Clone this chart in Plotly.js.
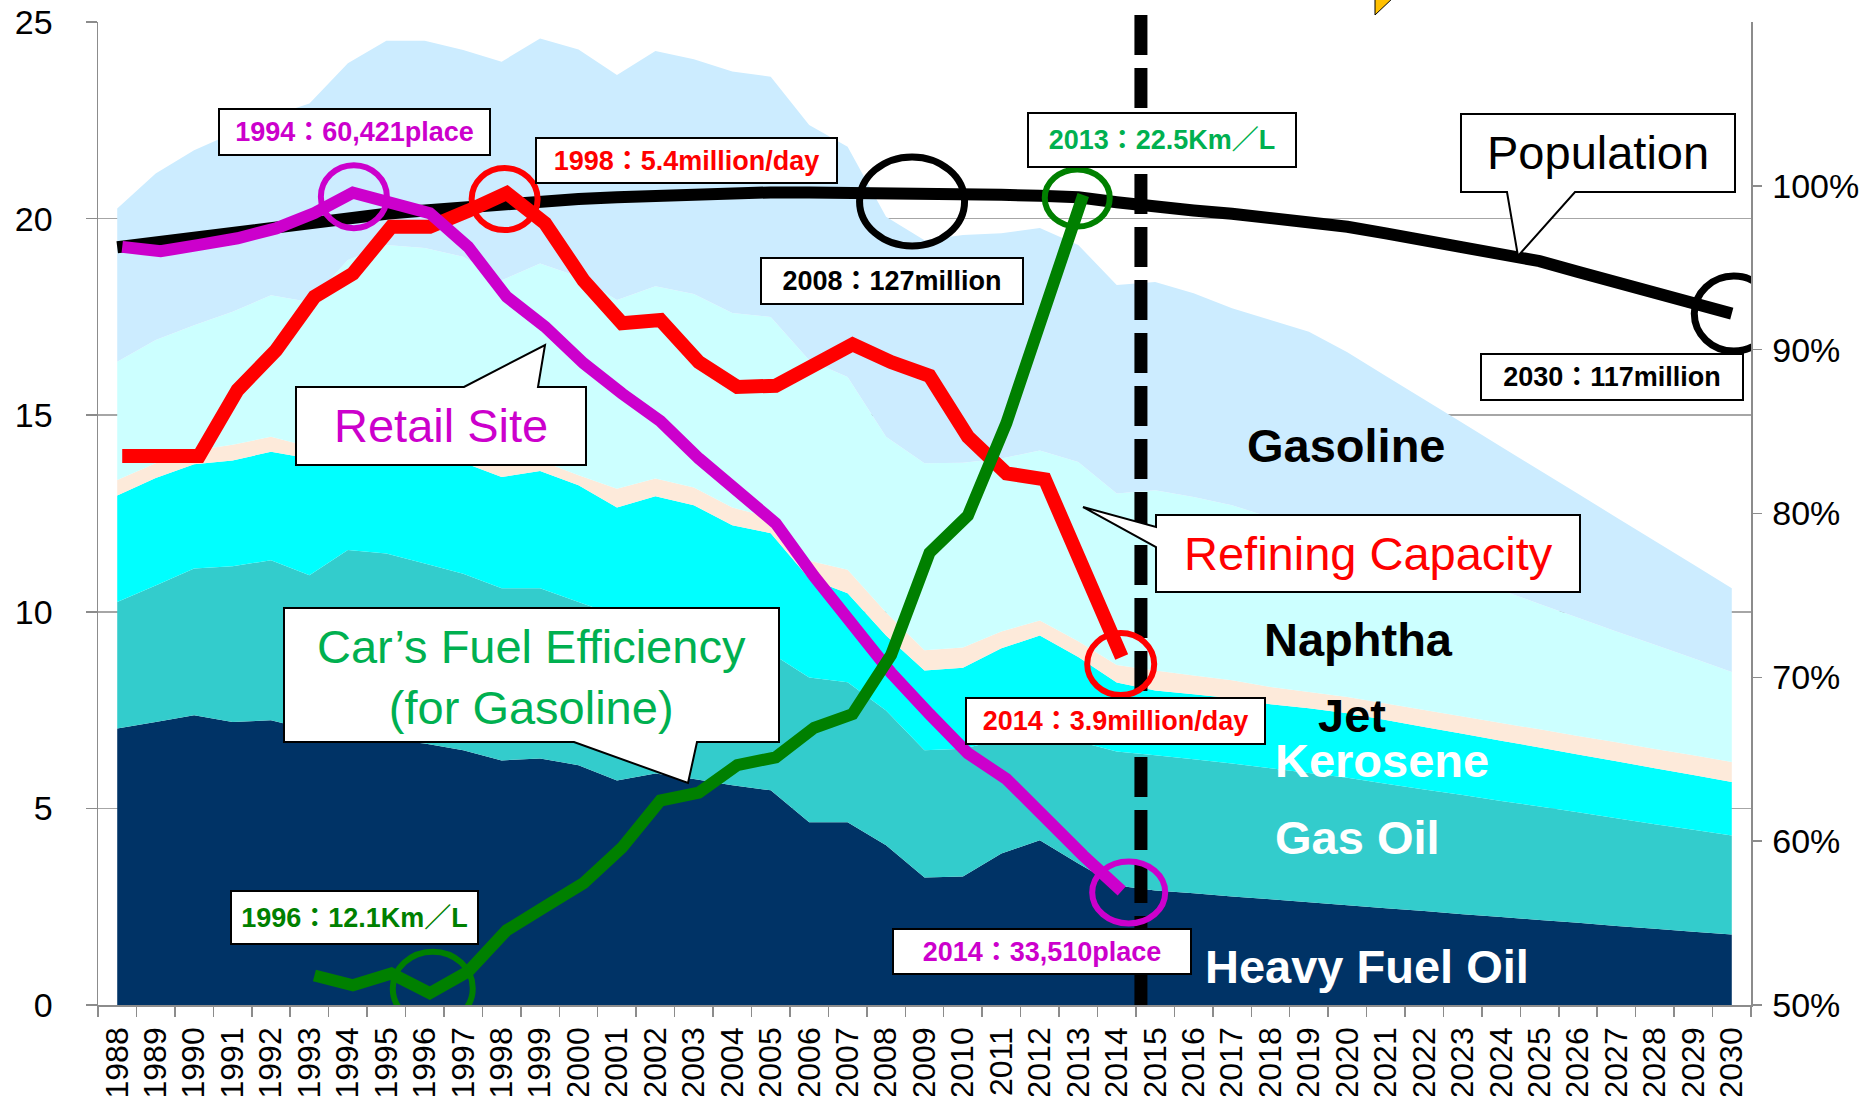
<!DOCTYPE html>
<html><head><meta charset="utf-8">
<script src="https://cdn.plot.ly/plotly-3.0.1.min.js"></script>
<style>html,body{margin:0;padding:0;background:#fff;overflow:hidden}#chart{width:1874px;height:1096px}</style>
</head><body><div id="chart"></div>
<script>
// ---------------- DATA ----------------
const years = ['1988','1989','1990','1991','1992','1993','1994','1995','1996','1997','1998','1999','2000','2001','2002','2003','2004','2005','2006','2007','2008','2009','2010','2011','2012','2013','2014','2015','2016','2017','2018','2019','2020','2021','2022','2023','2024','2025','2026','2027','2028','2029','2030'];

// demand by product (stacked, left axis)
const heavyFuelOil = [7.03,7.2,7.37,7.2,7.24,7.0,6.85,6.75,6.65,6.48,6.22,6.27,6.1,5.71,5.89,5.75,5.59,5.46,4.65,4.65,4.06,3.24,3.27,3.85,4.19,3.6,3.04,2.91,2.84,2.76,2.69,2.61,2.54,2.46,2.39,2.31,2.24,2.16,2.09,2.01,1.94,1.86,1.79];
const gasOil = [3.22,3.47,3.73,3.96,4.07,3.93,4.72,4.73,4.58,4.49,4.38,4.33,4.15,4.19,3.91,3.75,3.71,3.49,3.68,3.56,3.43,3.24,3.25,2.9,2.76,3.1,3.41,3.44,3.41,3.38,3.33,3.29,3.24,3.17,3.09,3.03,2.95,2.89,2.81,2.74,2.66,2.6,2.52];
const kerosene = [2.71,2.73,2.65,2.69,2.76,2.97,2.43,2.47,2.67,2.83,2.83,2.98,2.97,2.75,3.14,3.21,2.9,3.05,2.52,2.26,1.91,2.03,2.06,2.32,2.45,2.15,1.75,1.65,1.65,1.66,1.63,1.65,1.64,1.62,1.59,1.56,1.53,1.5,1.47,1.45,1.42,1.39,1.36];
const jet = [0.39,0.38,0.35,0.4,0.38,0.3,0.4,0.4,0.4,0.35,0.3,0.27,0.25,0.48,0.45,0.45,0.45,0.4,0.45,0.6,0.58,0.51,0.51,0.43,0.38,0.4,0.45,0.51,0.48,0.46,0.44,0.41,0.41,0.42,0.43,0.44,0.45,0.46,0.47,0.48,0.49,0.5,0.51];
const naphtha = [3.01,3.13,3.19,3.38,3.6,3.68,4.55,4.98,4.95,4.88,4.7,5.01,5.05,4.8,4.89,4.92,4.95,5.1,5.1,4.9,4.47,4.76,4.7,4.4,4.32,4.56,4.36,4.58,4.54,4.45,4.31,4.13,3.95,3.8,3.66,3.51,3.38,3.19,3.01,2.82,2.65,2.47,2.29];
const gasoline = [3.9,4.24,4.45,4.54,4.55,5.05,5.0,5.19,5.27,5.26,5.56,5.72,5.78,5.72,5.98,5.97,6.14,6.11,5.98,5.86,5.6,5.67,5.79,5.73,5.66,5.52,5.3,5.3,5.18,5.01,5.02,5.03,4.82,4.53,4.24,3.95,3.65,3.4,3.15,2.9,2.64,2.38,2.13];

// population index (right axis, %)
const population = [96.25,96.55,96.85,97.15,97.45,97.8,98.1,98.3,98.5,98.7,98.9,99.05,99.2,99.3,99.4,99.5,99.55,99.6,99.6,99.6,99.6,99.6,99.55,99.45,99.4,99.3,99.0,98.7,98.5,98.3,98.05,97.8,97.5,97.1,96.7,96.3,95.9,95.4,94.75,94.1,93.45,92.8,92.2];

// indicator lines (plotted in left-axis units as drawn), 1988-2014
const lineYears = years.slice(0, 27);
const refiningCapacity = [13.96,13.96,13.96,15.64,16.65,18.01,18.6,19.79,19.79,20.2,20.65,19.88,18.43,17.34,17.42,16.35,15.72,15.75,16.3,16.8,16.35,16.0,14.45,13.52,13.37,11.1,8.85];
const retailSites = [19.28,19.17,19.33,19.5,19.75,20.14,20.66,20.39,20.14,19.28,18.01,17.25,16.32,15.55,14.85,13.9,13.05,12.25,10.9,9.65,8.45,7.4,6.4,5.75,4.75,3.8,2.9];
// fuel efficiency, 1993-2013
const fuelYears = years.slice(5, 26);
const fuelEfficiency = [0.75,0.5,0.8,0.3,0.85,1.9,2.5,3.1,4.0,5.2,5.4,6.1,6.3,7.05,7.4,8.9,11.5,12.45,14.8,17.8,20.6];

const leftTicks = [0,5,10,15,20,25];
const rightTicks = [50,60,70,80,90,100];
const rightTickText = ['50%','60%','70%','80%','90%','100%'];

// ---------------- LAYOUT HELPERS ----------------
const W = 1874, H = 1096, ML = 98, MR = 123, MT = 22, MB = 91;
const PW = W - ML - MR, PH = H - MT - MB;
const px = x => (x - ML) / PW;
const py = y => (H - MB - y) / PH;
const FONT = 'Liberation Sans, Arial, Noto Sans CJK JP, sans-serif';

const areaDefs = [
  {name:'Heavy Fuel Oil', y:heavyFuelOil, color:'#003366'},
  {name:'Gas Oil', y:gasOil, color:'#33CCCC'},
  {name:'Kerosene', y:kerosene, color:'#00FFFF'},
  {name:'Jet', y:jet, color:'#FDEADA'},
  {name:'Naphtha', y:naphtha, color:'#CCFFFF'},
  {name:'Gasoline', y:gasoline, color:'#CCECFF'}
];

const traces = areaDefs.map(d => ({
  type:'scatter', x:years, y:d.y, name:d.name, stackgroup:'one',
  mode:'none', fillcolor:d.color, line:{width:0}, hoverinfo:'skip'
}));
traces.push({type:'scatter', x:years, y:population, xaxis:'x', yaxis:'y2', mode:'lines',
  line:{color:'#000000', width:12}, name:'Population', hoverinfo:'skip'});
traces.push({type:'scatter', x:lineYears, y:refiningCapacity, xaxis:'x2', yaxis:'y', mode:'lines',
  line:{color:'#FF0000', width:14}, name:'Refining Capacity', hoverinfo:'skip'});
traces.push({type:'scatter', x:lineYears, y:retailSites, xaxis:'x2', yaxis:'y', mode:'lines',
  line:{color:'#CC00CC', width:12}, name:'Retail Site', hoverinfo:'skip'});
traces.push({type:'scatter', x:fuelYears, y:fuelEfficiency, xaxis:'x2', yaxis:'y', mode:'lines',
  line:{color:'#008000', width:12}, name:'Fuel Efficiency', hoverinfo:'skip'});

// highlight circles anchored on data points
function valAt(arr, yrs, yr){ return arr[yrs.indexOf(yr)]; }
const circles = [
  {xref:'x2', yref:'y', yr:'1994', v:valAt(retailSites,lineYears,'1994'), w:66, h:63, dx:1, dy:-4, color:'#CC00CC', lw:6},
  {xref:'x2', yref:'y', yr:'1998', v:valAt(refiningCapacity,lineYears,'1998'), w:66, h:62, dx:-2, dy:-6, color:'#FF0000', lw:6},
  {xref:'x', yref:'y2', yr:'2008', v:valAt(population,years,'2008'), w:105, h:89, dx:26, dy:-9, color:'#000000', lw:7},
  {xref:'x2', yref:'y', yr:'2013', v:valAt(fuelEfficiency,fuelYears,'2013'), w:65, h:57, dx:-6, dy:-3, color:'#008000', lw:6},
  {xref:'x', yref:'y2', yr:'2030', v:valAt(population,years,'2030'), w:79, h:75, dx:2, dy:0, color:'#000000', lw:7},
  {xref:'x2', yref:'y', yr:'2014', v:valAt(refiningCapacity,lineYears,'2014'), w:67, h:62, dx:-1, dy:-7, color:'#FF0000', lw:6},
  {xref:'x2', yref:'y', yr:'2014', v:valAt(retailSites,lineYears,'2014'), w:73, h:62, dx:7, dy:-1.5, color:'#CC00CC', lw:6},
  {xref:'x2', yref:'y', yr:'1996', v:valAt(fuelEfficiency,fuelYears,'1996'), w:80, h:73, dx:3, dy:5, color:'#008000', lw:6}
];

const boxLabels = [
  {text:'1994：60,421place', color:'#CC00CC', box:[218,491,108,156]},
  {text:'1998：5.4million/day', color:'#FF0000', box:[535,838,137,184]},
  {text:'2013：22.5Km／L', color:'#00B050', box:[1027,1297,112,168]},
  {text:'2008：127million', color:'#000000', box:[760,1024,257,305]},
  {text:'2030：117million', color:'#000000', box:[1480,1744,353,401]},
  {text:'2014：3.9million/day', color:'#FF0000', box:[965,1266,697,745]},
  {text:'2014：33,510place', color:'#CC00CC', box:[892,1192,928,975]},
  {text:'1996：12.1Km／L', color:'#008000', box:[230,479,890,945]}
];

const callouts = [
  {text:'Population', color:'#000000', cx:1598, cy:153,
   pts:[[1461,114],[1735,114],[1735,192],[1575,192],[1518,256],[1507,192],[1461,192]]},
  {text:'Retail Site', color:'#CC00CC', cx:441, cy:426,
   pts:[[296,387],[464,387],[545,345],[538,387],[586,387],[586,465],[296,465]]},
  {text:'Refining Capacity', color:'#FF0000', cx:1368, cy:553,
   pts:[[1156,515],[1580,515],[1580,592],[1156,592],[1156,547],[1083,507],[1156,527]]},
  {text:'Car’s Fuel Efficiency<br>(for Gasoline)', color:'#00B050', cx:531, cy:677,
   pts:[[284,608],[779,608],[779,742],[697,742],[688,783],[574,742],[284,742]]}
];

const areaLabels = [
  {text:'Gasoline', color:'#000000', x:1346, y:445},
  {text:'Naphtha', color:'#000000', x:1358, y:639},
  {text:'Jet', color:'#000000', x:1352, y:715},
  {text:'Kerosene', color:'#FFFFFF', x:1382, y:760},
  {text:'Gas Oil', color:'#FFFFFF', x:1357, y:837},
  {text:'Heavy Fuel Oil', color:'#FFFFFF', x:1367, y:966}
];

// ---------------- SHAPES ----------------
const shapes = [];
// forecast separator (between 2014 and 2015)
shapes.push({type:'line', layer:'above', xref:'x2', yref:'paper',
  x0:26.5, x1:26.5, y0:py(15), y1:0,
  line:{color:'#000000', width:13, dash:'40px,13px'}});
callouts.forEach(c => {
  const d = 'M ' + c.pts.map(p => px(p[0]).toFixed(5) + ',' + py(p[1]).toFixed(5)).join(' L ') + ' Z';
  shapes.push({type:'path', layer:'above', xref:'paper', yref:'paper', path:d,
    fillcolor:'#FFFFFF', line:{color:'#000000', width:2}});
});
circles.forEach(c => {
  const xi = years.indexOf(c.yr);
  shapes.push({type:'circle', layer:'above', xref:c.xref, yref:c.yref,
    xsizemode:'pixel', ysizemode:'pixel', xanchor:xi, yanchor:c.v,
    x0:c.dx - c.w/2, x1:c.dx + c.w/2, y0:c.dy - c.h/2, y1:c.dy + c.h/2,
    line:{color:c.color, width:c.lw}, fillcolor:'rgba(0,0,0,0)'});
});
// cut-off marker at the top edge
shapes.push({type:'path', layer:'above', xref:'paper', yref:'paper',
  path:'M ' + px(1375) + ',' + py(-3) + ' L ' + px(1375) + ',' + py(15) + ' L ' + px(1394) + ',' + py(-3) + ' Z',
  fillcolor:'#FFC000', line:{color:'#000000', width:1}});

// ---------------- ANNOTATIONS ----------------
const annotations = [];
boxLabels.forEach(b => {
  annotations.push({xref:'paper', yref:'paper', x:px((b.box[0]+b.box[1])/2), y:py((b.box[2]+b.box[3])/2),
    xanchor:'center', yanchor:'middle', showarrow:false, text:b.text,
    width:b.box[1]-b.box[0]-4, height:b.box[3]-b.box[2]-4, align:'center', valign:'middle',
    bgcolor:'#FFFFFF', bordercolor:'#000000', borderwidth:2, borderpad:0,
    font:{family:FONT, size:27, color:b.color, weight:700}});
});
callouts.forEach(c => {
  annotations.push({xref:'paper', yref:'paper', x:px(c.cx), y:py(c.cy), xanchor:'center', yanchor:'middle',
    showarrow:false, text:c.text, align:'center', font:{family:FONT, size:47, color:c.color}});
});
areaLabels.forEach(a => {
  annotations.push({xref:'paper', yref:'paper', x:px(a.x), y:py(a.y), xanchor:'center', yanchor:'middle',
    showarrow:false, text:a.text, font:{family:FONT, size:47, color:a.color, weight:700}});
});

const axisGrey = '#8C8C8C';
const TICKFONT = {family:FONT, size:34, color:'#000000'};
const layout = {
  width:W, height:H, margin:{l:ML, r:MR, t:MT, b:MB, pad:0},
  paper_bgcolor:'#FFFFFF', plot_bgcolor:'#FFFFFF', showlegend:false,
  font:{family:FONT, size:32, color:'#000000'},
  xaxis:{type:'category', categoryorder:'array', categoryarray:years, range:[-0.5, 42.5],
    tickmode:'linear', tick0:0, dtick:1,
    tickson:'boundaries', ticks:'outside', ticklen:10, tickwidth:1.5, tickcolor:axisGrey,
    showline:true, linecolor:axisGrey, linewidth:1.5, showgrid:false, zeroline:false,
    tickangle:-90, tickfont:{family:FONT, size:32, color:'#000000'}, ticklabelstandoff:8, fixedrange:true},
  xaxis2:{type:'category', categoryorder:'array', categoryarray:years, range:[-0.63, 42.37],
    overlaying:'x', visible:false, fixedrange:true},
  yaxis:{range:[0, 25], tickvals:leftTicks, ticks:'outside', ticklen:11, tickwidth:1.5, tickcolor:axisGrey,
    showline:true, linecolor:axisGrey, linewidth:1.5, showgrid:true, gridcolor:'#A6A6A6', gridwidth:1.5,
    zeroline:false, tickfont:TICKFONT, ticklabelstandoff:26, fixedrange:true},
  yaxis2:{range:[50, 110], overlaying:'y', side:'right', tickvals:rightTicks, ticktext:rightTickText,
    ticks:'outside', ticklen:9, tickwidth:1.5, tickcolor:axisGrey, showline:true, linecolor:axisGrey, linewidth:1.5,
    showgrid:false, zeroline:false, tickfont:TICKFONT, ticklabelstandoff:4, fixedrange:true},
  shapes:shapes, annotations:annotations
};

Plotly.newPlot('chart', traces, layout, {staticPlot:true, displayModeBar:false});
</script></body></html>
